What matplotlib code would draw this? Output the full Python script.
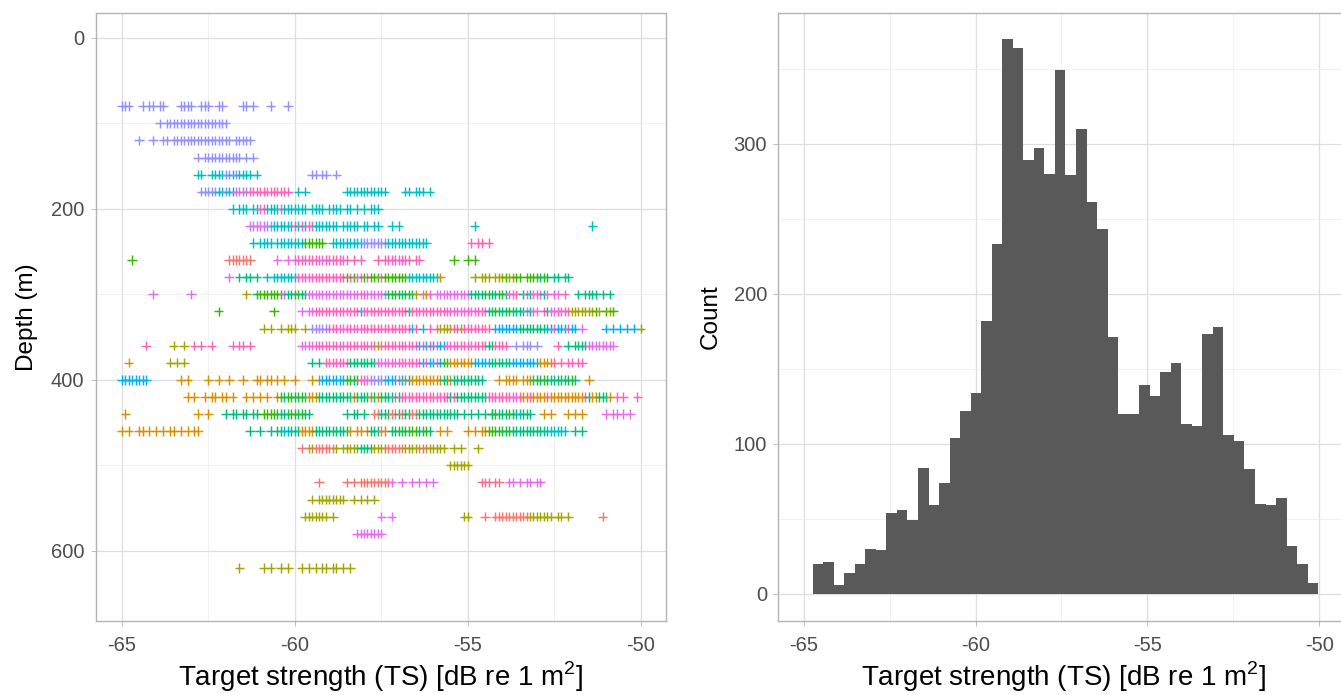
import matplotlib.pyplot as plt
import numpy as np

plt.rcParams['font.family'] = ['Liberation Sans', 'DejaVu Sans']
plt.rcParams['axes.unicode_minus'] = False

# left panel: one string per depth layer.
# "start:marks" -> mark k sits at TS = -65 + (start + k) * 0.1 dB, '.' = no mark
depths = [80, 100, 120, 140, 160, 180, 200, 220, 240, 260, 280, 300, 320, 340,
          360, 380, 400, 420, 440, 460, 480, 500, 520, 540, 560, 580, 620]
rows = [
    "0:vvv 6:v.vv.vv 17:vvvv 23:vvv 28:vv 35:vv.v 43:v 48:v",
    "11:v.vvvvvvvvvvvvvvvvvv",
    "5:v 9:v 12:vv.vvvvvvvvvvvvvvvvv 33:vvvvv",
    "22:v.vvvvvvvvvvv.v.v",
    "22:cc..ccccvvcvcccc.c 55:vv.vv..v",
    "23:vvvvvccvcc 33:mvpvpppppppppppp 51:c.c 65:cccccccccccc 82:cc.ccc.c",
    "32:c.ccc.ccppccccpccccccc.cccc.cccc.cc.c.c.ccc",
    "37:mvmmmvmccccccpcpcppccccccc.ccccc.cc.cc 78:c.c 102:c 136:c",
    "38:c.cccc.ccccccccgggggg 61:cccccccccvvvvvvvcccccccccccc 101:p.pp.p",
    "3:g 31:rrrrrrr 45:m..m.mpppppppmppppppp.p.p 74:p.pppppppp.pp 96:g 100:g.g",
    "31:m 34:t.tt.t 42:c.cc 46:cccccpppmppppppppppgpgpmgpgggpgggggggccccccccco "
    "102:y 104:yyy.yyygyygg.ggggtgt.tt.tt",
    "9:m 20:m 36:y 39:tggggggg 47:mtttgtt 54:mmmmmmmmmm 64:mmmmmmpmmm 74:mmm "
    "77:tgtgttgt 85:y.pyp 91:mmmmmmmmmm 101:tttttgtttgt 112:pmp.tmtmpmtm.pm.p 132:t.tttt.t.t",
    "28:g 44:g 52:m.mmp 57:pppppppppp 67:ppbppppppp 77:pppppptppp 87:ppppppppp "
    "96:mpmmpmmppm 106:ttgtttgttt 116:tmtpm.ptpmpmpp 130:yyyyyy 136:ygy.gyg",
    "41:y.y 46:y.yyy 53:y 55:vvmvvpp 62:ppmpppmpppppppppp 79:pppppb 85:p.c.p.p "
    "92:yyyyppyppppppp 106:r.bbbbbbb 115:tttttttt 123:bbpbbbpbb 133:m 140:b.b.b.b.b 150:y",
    "7:p 15:y..y 21:p.p..p 32:p.pp.p 52:mmmmpppppppppppppppp 72:ppyprppppp "
    "82:ppppbpbpbpbbpm 96:pppppppppp 106:ttpppp 114:v.vvv.v 126:p 129:t.tttt 135:mmmmmmmm",
    "2:o 14:y.y.y 55:t.t.pppppppttttttttmmmm 78:pmppmpppm 87:bpbbpb 93:gt 95:ooooooo "
    "102:bbbbbtttttt 113:bbbbbbbb 121:oooo 125:p.p.pp.pp",
    "0:bbbbbbbb 17:o.o 25:o..o..o...o 39:oo.oo.o.o..o 55:o.o 58:bbbbbbbtgtgppmpvvvv "
    "77:bbbpbob 84:ooooooooo 93:ttottttttttt 109:o.oooo.ooo 119:tgtgtttttttg 131:t 135:o",
    "19:o.o 24:o.oo.oo.o 36:o.o.o.o 45:ogtgtgtgtooottttttt 64:tttottttototttt "
    "79:ptpppppppppppppptp 97:ttttttttt 106:ppppppppmp 116:oopoooopoooooooooop "
    "135:toottto 143:p.p 149:p",
    "1:o 22:o 25:o 30:t.tt.tt.tt 41:gggggtttggtgtt 65:t.tt.t 73:rrtttrrtrttrrt "
    "87:tttttttttt 97:t.t.t.t.t.t 107:tgtttgttcttt 122:o.o 129:o.o.o 140:m.mm.m.m",
    "0:o.o 5:oo.o.o 12:o.oo.o.o.oo 37:t..t..t 45:ttcctct 52:oooo 56:tttttttttto.oo.otttro "
    "78:ttgtgtggttgt 92:o.o 100:o.o.oo 106:gggtgtgtttt 117:tttttt 123:cccccc 131:t.t",
    "52:r.ryrrrrrr 62:y.yyyyyttttyyyy 77:rrrrr 82:yyyyryryyyyy 96:y.y 103:y",
    "95:yyyyyy",
    "57:r 65:r.r.rrrrrrrrr 78:m..m..m.m.m.m 104:rpr.pr 112:mm.m.mm.mm",
    "55:y.yyyyyyyy 67:y.y.y 73:y",
    "53:yyyyyyy.y 75:m 78:m 99:yy 105:r 108:rrrrrrrrrr 118:yyyyyy 124:y.yy.y 139:r",
    "68:mmmmmmmm",
    "34:y 41:y.y 46:y.y 52:y.y.y.yy.yy.y.y",
]
colours = {
    'r': '#F8766D', 'o': '#D89000', 'y': '#A3A500', 'g': '#39B600', 't': '#00BF7D',
    'c': '#00BFC4', 'b': '#00B0F6', 'v': '#9590FF', 'm': '#E76BF3', 'p': '#FF62BC',
}

# right panel: histogram counts, 48 equal bins
bin_lo, bin_hi = -64.74, -50.03
counts = [20, 21, 6, 14, 20, 30, 29, 54, 56, 49, 84, 59, 74, 104, 122, 134,
          182, 233, 370, 364, 289, 297, 280, 349, 279, 310, 261, 243, 171, 120, 120, 139,
          132, 148, 154, 113, 112, 173, 178, 106, 102, 83, 60, 59, 64, 32, 20, 7]

ts, dep, col = [], [], []
for d, row in zip(depths, rows):
    for run in row.split():
        start, marks = run.split(':')
        for k, ch in enumerate(marks):
            if ch != '.':
                ts.append(-65 + (int(start) + k) * 0.1)
                dep.append(d)
                col.append(colours[ch])

edges = np.linspace(bin_lo, bin_hi, len(counts) + 1)

fig = plt.figure(figsize=(13.41, 6.95), dpi=100)
ax1 = fig.add_axes([95.5 / 1341, 74 / 695, 570.5 / 1341, 608 / 695])
ax2 = fig.add_axes([778 / 1341, 74 / 695, 567 / 1341, 608 / 695])


def light_theme(ax):
    ax.set_facecolor('white')
    ax.grid(True, which='major', color='#DEDEDE', lw=0.9, zorder=0)
    ax.grid(True, which='minor', color='#EBEBEB', lw=0.5, zorder=0)
    ax.set_axisbelow(True)
    for s in ax.spines.values():
        s.set_color('#B3B3B3')
        s.set_linewidth(1.0)
    ax.tick_params(which='major', length=3.5, width=0.6, color='#B3B3B3',
                   labelsize=14.5, labelcolor='#4D4D4D', pad=4.5)
    ax.tick_params(axis='x', which='major', pad=7)
    ax.tick_params(which='minor', length=0)


ax1.scatter(ts, dep, c=col, marker='+', s=46, linewidths=1.05, zorder=2)
ax1.set_xlim(-65.76, -49.27)
ax1.set_ylim(682, -29)
ax1.set_xticks([-65, -60, -55, -50])
ax1.set_xticks([-62.5, -57.5, -52.5], minor=True)
ax1.set_yticks([0, 200, 400, 600])
ax1.set_yticks([100, 300, 500], minor=True)
light_theme(ax1)
ax1.set_ylabel('Depth (m)', fontsize=17.5)
ax1.yaxis.set_label_coords(-0.1, 0.5)

ax2.hist(edges[:-1], bins=edges, weights=counts, color='#595959', zorder=2)
ax2.set_xlim(-65.75, -49.25)
ax2.set_ylim(-18, 387.3)
ax2.set_xticks([-65, -60, -55, -50])
ax2.set_xticks([-62.5, -57.5, -52.5], minor=True)
ax2.set_yticks([0, 100, 200, 300])
ax2.set_yticks([50, 150, 250, 350], minor=True)
light_theme(ax2)
ax2.set_ylabel('Count', fontsize=17.5)
ax2.yaxis.set_label_coords(-0.099, 0.5)

for ax in (ax1, ax2):
    ax.set_xlabel(r'Target strength (TS) [dB re 1 m$^\mathregular{2}$]', fontsize=20)
    ax.xaxis.set_label_coords(0.5 if ax is ax1 else 0.5 * 570.5 / 567, -0.063)

fig.savefig('out.png', dpi=100)
